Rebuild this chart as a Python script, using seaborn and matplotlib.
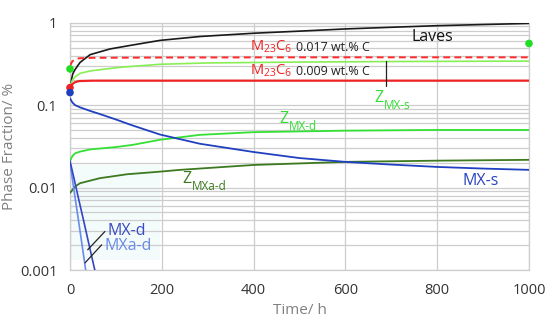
import numpy as np
import pandas as pd
import seaborn as sns
import matplotlib.pyplot as plt
from matplotlib.ticker import LogLocator, NullFormatter, FixedLocator

# ---- data (time in h, phase fraction in %) ----
laves_t = [0, 3, 6, 11, 22, 44, 87, 131, 196, 283, 400, 500, 600, 700, 800, 900, 1000]
laves_v = [0.15, 0.2, 0.24, 0.27, 0.33, 0.41, 0.48, 0.53, 0.61, 0.68, 0.745, 0.79, 0.84, 0.88, 0.92, 0.95, 0.98]

m23_017_t = [0, 5, 11, 20, 50, 200, 500, 1000]
m23_017_v = [0.30, 0.34, 0.36, 0.37, 0.375, 0.378, 0.38, 0.38]

zmxs_t = [0, 5, 11, 22, 44, 109, 196, 300, 500, 700, 1000]
zmxs_v = [0.17, 0.2, 0.22, 0.243, 0.26, 0.288, 0.313, 0.325, 0.333, 0.338, 0.342]

m23_009_t = [0, 5, 11, 20, 50, 1000]
m23_009_v = [0.16, 0.18, 0.19, 0.196, 0.198, 0.198]

mxs_t = [0, 5, 11, 22, 44, 65, 100, 131, 196, 283, 400, 500, 600, 700, 800, 900, 1000]
mxs_v = [0.121, 0.108, 0.1, 0.094, 0.085, 0.078, 0.067, 0.058, 0.044, 0.034, 0.027, 0.0228,
         0.0205, 0.019, 0.0178, 0.017, 0.0164]

zmxd_t = [0, 5, 11, 22, 44, 100, 137, 196, 283, 400, 600, 800, 1000]
zmxd_v = [0.021, 0.024, 0.026, 0.0273, 0.029, 0.031, 0.033, 0.038, 0.0436, 0.047, 0.049, 0.05, 0.05]

zmxad_t = [0, 11, 22, 65, 124, 196, 240, 400, 600, 800, 1000]
zmxad_v = [0.0086, 0.0103, 0.0113, 0.013, 0.0145, 0.0156, 0.0164, 0.0188, 0.0205, 0.0212, 0.0217]

mxd_t = [0, 10, 20, 30, 40, 50, 60]
mxd_v = [0.021, 0.012, 0.0068, 0.0039, 0.0022, 0.00125, 0.00072]

mxad_t = [0, 10, 20, 30, 36]
mxad_v = [0.02, 0.0083, 0.0035, 0.00145, 0.00085]

dots_t = [0, 0, 0, 1000]
dots_v = [0.275, 0.163, 0.142, 0.56]
dots_c = ['#22dd22', '#ee2222', '#1f3fbf', '#22dd22']

x_ticks = [0, 200, 400, 600, 800, 1000]
y_ticks = [0.001, 0.01, 0.1, 1]
y_ticklabels = ['0.001', '0.01', '0.1', '1']

sns.set_style('white')
plt.rcParams['font.family'] = ['Open Sans', 'DejaVu Sans']

fig = plt.figure(figsize=(5.5, 3.2), dpi=100)
ax = fig.add_axes([70 / 550, 1 - 270 / 320, 459 / 550, 247.3 / 320])

# faint highlight behind the MX-d labels
ax.add_patch(plt.Rectangle((0.0, 0.04), 0.196, 0.385, transform=ax.transAxes,
                           color='#f3fbfb', zorder=0, lw=0))

series = [
    (laves_t, laves_v, '#1a1a1a', 1.2, '-'),
    (zmxs_t, zmxs_v, '#88ee55', 1.2, '-'),
    (m23_017_t, m23_017_v, '#ff2a2a', 1.4, (0, (3.5, 2.2))),
    (m23_009_t, m23_009_v, '#ee2424', 1.6, '-'),
    (zmxd_t, zmxd_v, '#33e033', 1.3, '-'),
    (zmxad_t, zmxad_v, '#3d7a1f', 1.3, '-'),
    (mxs_t, mxs_v, '#2040c0', 1.3, '-'),
    (mxad_t, mxad_v, '#6a8cf0', 1.2, '-'),
    (mxd_t, mxd_v, '#3545c4', 1.2, '-'),
]
for t, v, c, lw, ls in series:
    df = pd.DataFrame({'t': t, 'v': v})
    sns.lineplot(data=df, x='t', y='v', ax=ax, color=c, linewidth=lw,
                 linestyle=ls, estimator=None, sort=False, zorder=3)

for t, v, c in zip(dots_t, dots_v, dots_c):
    sns.scatterplot(x=[t], y=[v], ax=ax, color=c, s=30, edgecolor='none',
                    clip_on=False, zorder=5)

ax.set_yscale('log')
ax.set_xlim(0, 1000)
ax.set_ylim(0.001, 1)
ax.xaxis.set_major_locator(FixedLocator(x_ticks))
ax.set_yticks(y_ticks)
ax.set_yticklabels(y_ticklabels)
ax.yaxis.set_minor_locator(LogLocator(base=10, subs=np.arange(2, 10)))
ax.yaxis.set_minor_formatter(NullFormatter())
ax.grid(axis='y', which='both', color='#cdcdcd', lw=0.9, zorder=1)
ax.grid(axis='x', which='major', color='#cdcdcd', lw=0.9, zorder=1)
ax.tick_params(which='both', length=0, labelsize=10.5, labelcolor='#333333')
ax.tick_params(axis='y', pad=9)
ax.tick_params(axis='x', pad=9)
for s in ax.spines.values():
    s.set_color('#cdcdcd')
    s.set_linewidth(0.9)

ax.set_xlabel('Time/ h', fontsize=11, color='#808080', labelpad=4)
ax.set_ylabel('Phase Fraction/ %', fontsize=11, color='#808080', labelpad=2)

# ---- annotations ----
ax.text(790, 0.67, 'Laves', fontsize=11.5, color='#111111', ha='center', va='center')

ax.text(392, 0.458, r'$\mathregular{M_{23}C_{6}}$', fontsize=10.5, color='#ee2222', va='baseline')
ax.text(493, 0.458, '0.017 wt.% C', fontsize=9, color='#222222', va='baseline')
ax.text(392, 0.232, r'$\mathregular{M_{23}C_{6}}$', fontsize=10.5, color='#ee2222', va='baseline')
ax.text(493, 0.232, '0.009 wt.% C', fontsize=9, color='#222222', va='baseline')


def zlabel(x, y, main, sub, color):
    t = ax.text(x, y, main, fontsize=11.5, color=color, va='baseline', zorder=6)
    ax.annotate(sub, xy=(1, 0), xycoords=t, xytext=(0.3, 0), textcoords='offset points',
                fontsize=8.5, color=color, va='center', ha='left', zorder=6)


zlabel(664, 0.110, 'Z', 'MX-s', '#33dd33')
zlabel(457, 0.0608, 'Z', 'MX-d', '#33dd33')
zlabel(244, 0.0114, 'Z', 'MXa-d', '#3d7a1f')

ax.text(856, 0.0108, 'MX-s', fontsize=11.5, color='#2a44c0', va='baseline')
ax.text(82, 0.00267, 'MX-d', fontsize=11.5, color='#3a4cc4', va='baseline')
ax.text(76, 0.00176, 'MXa-d', fontsize=11.5, color='#6a8ae8', va='baseline')

# leader lines
lead_zs_t, lead_zs_v = [688, 688], [0.34, 0.171]
lead_mxd_t, lead_mxd_v = [38.6, 76], [0.00176, 0.00293]
lead_mxad_t, lead_mxad_v = [32.7, 69], [0.00122, 0.00202]
for lt, lv in [(lead_zs_t, lead_zs_v), (lead_mxd_t, lead_mxd_v), (lead_mxad_t, lead_mxad_v)]:
    ax.plot(lt, lv, color='#222222', lw=0.9, zorder=4)

fig.savefig('out.png', dpi=100)
